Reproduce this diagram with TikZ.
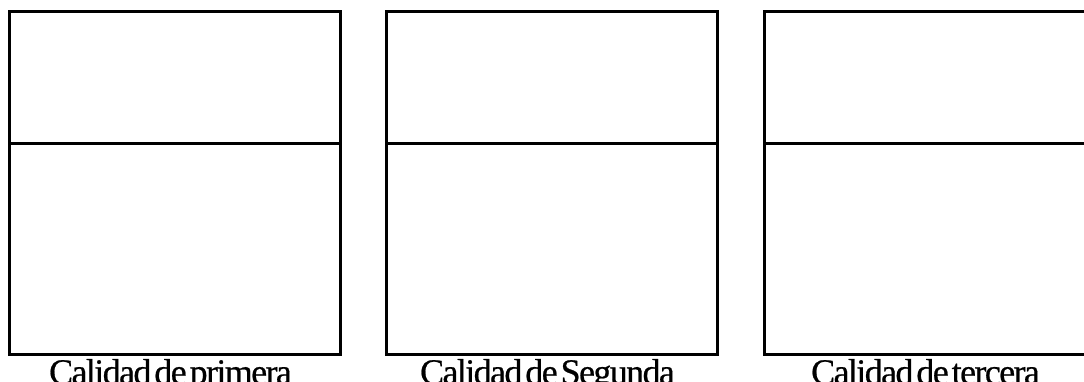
\documentclass[tikz,border=0pt]{standalone}
\usepackage{fontspec}
\setmainfont{Liberation Serif}
\newfontfamily\calfont[LetterSpace=-4.5, WordSpace=0.4, FakeBold=0.6]{Liberation Serif}

\begin{document}
\begin{tikzpicture}[x=1pt, y=1pt, line width=3pt]
    \useasboundingbox (0,0) rectangle (1084,381);
    \clip (0,0) rectangle (1084,381);

    \foreach \xl/\lbl/\nm in {9.5/primera/uno, 386.5/Segunda/dos, 764.5/tercera/tres} {
        \draw (\xl,27) rectangle ++(330.5,342.5);
        \draw (\xl,238) -- ++(330.5,0);
        \node[anchor=base, inner sep=0pt, font=\calfont\fontsize{36}{36}\selectfont] (cal\nm) at (\xl+161,-3) {Calidad de \lbl};
    }
\end{tikzpicture}
\end{document}
